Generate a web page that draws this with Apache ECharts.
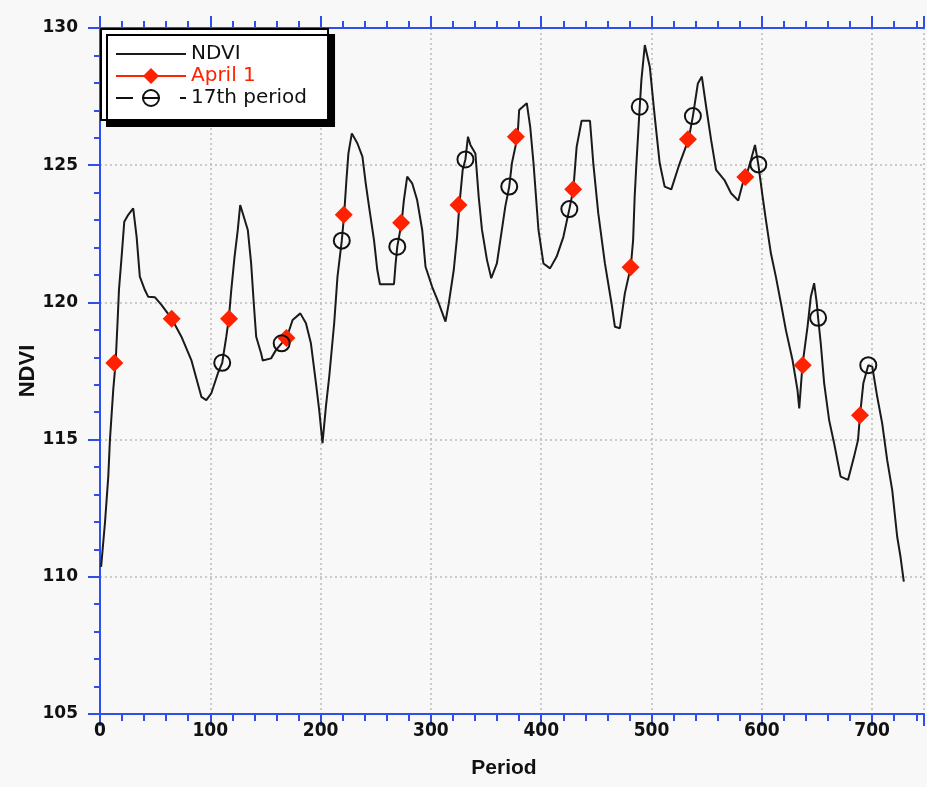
<!DOCTYPE html>
<html>
<head>
<meta charset="utf-8">
<script src="https://cdn.jsdelivr.net/npm/echarts@6/dist/echarts.min.js"></script>
<style>
  html, body { margin: 0; padding: 0; background: #f8f8f8; }
  #chart { width: 927px; height: 787px; }
</style>
</head>
<body>
<div id="chart"></div>
<script>
// NDVI trace (period, value)
const ndviPeriod = [1, 4.5, 7.5, 9, 12, 14.2, 16, 17.2, 19.6, 22, 25.6, 30.1, 33.2, 36.1, 40.7, 43.6, 49.7, 55.7, 64.8, 73.8,
  82.8, 91.9, 96.4, 100.9, 106.9, 110.8, 114.5, 116.8, 119, 122, 124.9, 127.1, 129.4, 134, 137, 139.4, 141.6, 146.1, 147.5, 155.1,
  159.6, 164.7, 170.1, 174.6, 181.6, 186.7, 191.2, 195.8, 198.7, 201.7, 204.8, 207.8, 212.3, 215.3, 219.2, 221.3, 223.4, 225.2, 228.3, 233.3,
  237.9, 240.9, 243.9, 248.4, 251.4, 253.8, 266.5, 268, 269.5, 273.4, 275.5, 278.5, 283, 287.5, 292.1, 295.1, 301.1, 307.1, 313.2, 316.2,
  320.7, 323.7, 325.8, 328.8, 331.3, 333.6, 335.8, 340.3, 343.3, 346.3, 350.8, 354.7, 359.8, 364.3, 367.4, 371, 373.4, 378.5, 380, 386.9,
  390, 393, 397.5, 402, 408, 414, 420.1, 425.5, 429.1, 432.1, 436.6, 444.2, 447.2, 451.7, 457.7, 463.7, 466.8, 471.3, 475.8, 481.2,
  483.3, 484.7, 486.3, 489.3, 490.8, 493.9, 498.4, 502.9, 507.4, 511.9, 517.9, 525.5, 533.6, 537.5, 542, 545.6, 549.5, 554, 558.5, 566.1,
  572.1, 578.6, 582.7, 585.6, 590.1, 593.8, 596.8, 600.7, 603.7, 608.2, 612.7, 617.3, 621.8, 627.8, 632.3, 633.9, 636.8, 641.4, 644.4, 647.4,
  649.8, 651, 653.4, 656.5, 661, 665.5, 671.4, 678.1, 683.6, 687.2, 689, 692, 696.5, 700.1, 704.6, 709.1, 713.6, 718.2, 722.7, 725.7, 728.7];
const ndviValue = [110.36, 111.97, 113.65, 114.99, 116.81, 117.83, 119.36, 120.46, 121.67, 122.94, 123.19, 123.43, 122.39, 120.94, 120.45, 120.21, 120.19, 119.91, 119.42, 118.75,
  117.9, 116.56, 116.44, 116.69, 117.42, 117.8, 118.75, 119.42, 120.45, 121.67, 122.64, 123.55, 123.25, 122.64, 121.43, 119.97, 118.75, 118.14, 117.88, 117.96,
  118.27, 118.51, 118.81, 119.36, 119.6, 119.24, 118.51, 117.05, 116.08, 114.87, 116.2, 117.29, 119.24, 120.94, 122.25, 123.19, 124.46, 125.43, 126.16, 125.8,
  125.31, 124.34, 123.49, 122.27, 121.18, 120.66, 120.66, 121.42, 122.03, 122.9, 123.73, 124.58, 124.34, 123.73, 122.64, 121.3, 120.57, 119.97, 119.3, 119.97,
  121.18, 122.39, 123.55, 124.83, 125.22, 126.04, 125.74, 125.43, 123.85, 122.64, 121.55, 120.88, 121.42, 122.64, 123.49, 124.22, 125.07, 126.04, 127.01, 127.26,
  126.4, 125.07, 122.64, 121.42, 121.24, 121.67, 122.39, 123.4, 124.12, 125.67, 126.62, 126.62, 125.07, 123.25, 121.43, 119.97, 119.11, 119.06, 120.33, 121.3,
  122.27, 123.85, 125.07, 127.13, 128.1, 129.38, 128.59, 126.77, 125.07, 124.22, 124.12, 125.07, 125.94, 126.79, 127.98, 128.23, 127.13, 125.92, 124.83, 124.46,
  123.98, 123.71, 124.34, 124.57, 125.19, 125.74, 125.03, 123.85, 123, 121.79, 120.94, 119.97, 118.99, 117.9, 116.81, 116.14, 117.71, 119.11, 120.21, 120.7,
  119.97, 119.44, 118.51, 117.05, 115.71, 114.87, 113.65, 113.53, 114.38, 114.99, 115.89, 117.05, 117.71, 117.66, 116.56, 115.59, 114.26, 113.16, 111.46, 110.73, 109.82];

// April 1 markers
const aprilPeriod = [13, 65, 117, 169, 221, 273, 325, 377, 429, 481, 533, 585, 637, 689];
const aprilValue = [117.79, 119.4, 119.4, 118.7, 123.19, 122.9, 123.55, 126.04, 124.12, 121.28, 125.95, 124.57, 117.71, 115.89];

// 17th period markers
const p17Period = [110.8, 164.7, 219.2, 269.5, 331.3, 371, 425.5, 489.3, 537.5, 596.8, 651, 696.5];
const p17Value = [117.8, 118.51, 122.25, 122.03, 125.21, 124.22, 123.4, 127.13, 126.79, 125.03, 119.44, 117.71];

const xLabels = [0, 100, 200, 300, 400, 500, 600, 700];
const yTicks = [105, 110, 115, 120, 125, 130];

const BLUE = '#2f4fe8';
const RED = '#ff2200';
const X_MAX = 747; // picture is cut at the right edge
const pairs = (xs, ys) => xs.map((x, i) => [x, ys[i]]);

const chart = echarts.init(document.getElementById('chart'), null, { renderer: 'canvas' });

// one axis per tick family: major (100) and minor (20), bottom and top
function xAxisDef(position, step, tickLen, withLine, extra) {
  return Object.assign({
    type: 'value',
    position: position,
    min: 0,
    max: X_MAX,
    interval: step,
    axisLine: { show: withLine, onZero: false, lineStyle: { color: BLUE, width: 2 } },
    axisTick: { show: true, length: tickLen, lineStyle: { color: BLUE, width: 2 } },
    axisLabel: { show: false },
    splitLine: { show: false }
  }, extra || {});
}

const option = {
  backgroundColor: '#f8f8f8',
  animation: false,
  grid: { left: 100, right: 0, top: 28, bottom: 73, containLabel: false },
  legend: {
    orient: 'vertical',
    left: 101,
    top: 29,
    itemWidth: 70,
    itemHeight: 20,
    itemGap: 2,
    padding: [15, 21, 12, 14],
    backgroundColor: '#ffffff',
    borderColor: '#000',
    borderWidth: 2,
    borderRadius: 0,
    shadowColor: '#000',
    shadowOffsetX: 6,
    shadowOffsetY: 6,
    shadowBlur: 0,
    textStyle: { fontFamily: 'DejaVu Sans', fontSize: 20, color: '#111' },
    data: [
      { name: 'NDVI', itemStyle: { opacity: 0 } },
      { name: 'April 1', textStyle: { color: RED }, lineStyle: { opacity: 1, width: 2, color: RED } },
      { name: '17th period', lineStyle: { opacity: 1, width: 2, color: '#111', type: [17, 9, 18, 20, 7, 60] } }
    ]
  },
  xAxis: [
    xAxisDef('bottom', 100, 12, true, {
      name: 'Period',
      nameLocation: 'middle',
      nameGap: 44,
      nameMoveOverlap: false,
      nameTextStyle: { fontFamily: 'Liberation Sans', fontWeight: 'bold', fontSize: 21, color: '#111', padding: [0, 0, 0, -16] },
      axisLabel: {
        show: true,
        margin: 8,
        fontFamily: 'DejaVu Sans Condensed',
        fontWeight: 'bold',
        fontSize: 19,
        color: '#111',
        formatter: v => (xLabels.indexOf(v) >= 0 ? String(v) : '')
      },
      splitLine: { show: true, lineStyle: { color: '#bbbbbb', width: 1.5, type: [2, 3] } }
    }),
    xAxisDef('bottom', 20, 7, false),
    xAxisDef('top', 100, 12, true),
    xAxisDef('top', 20, 7, false)
  ],
  yAxis: {
    type: 'value',
    min: 105,
    max: 130,
    interval: 5,
    name: 'NDVI',
    nameLocation: 'middle',
    nameGap: 61,
    nameMoveOverlap: false,
    nameRotate: 90,
    nameTextStyle: { fontFamily: 'Liberation Sans', fontWeight: 'bold', fontSize: 22, color: '#111' },
    axisLine: { show: true, lineStyle: { color: BLUE, width: 2 } },
    axisTick: { show: true, length: 12, lineStyle: { color: BLUE, width: 2 } },
    minorTick: { show: true, splitNumber: 5, length: 6, lineStyle: { color: BLUE, width: 2 } },
    axisLabel: {
      margin: 22,
      fontFamily: 'DejaVu Sans',
      fontWeight: 'bold',
      fontSize: 17,
      color: '#111',
      formatter: v => (yTicks.indexOf(v) >= 0 ? String(v) : '')
    },
    splitLine: { show: true, lineStyle: { color: '#bbbbbb', width: 1.5, type: [2, 3] } }
  },
  series: [
    {
      name: 'NDVI',
      type: 'line',
      data: pairs(ndviPeriod, ndviValue),
      showSymbol: false,
      symbol: 'none',
      lineStyle: { color: '#1a1a1a', width: 2 },
      itemStyle: { color: '#1a1a1a' },
      z: 2
    },
    {
      name: 'April 1',
      type: 'line',
      data: pairs(aprilPeriod, aprilValue),
      symbol: 'diamond',
      symbolSize: 18,
      showAllSymbol: true,
      lineStyle: { opacity: 0, color: RED, width: 2 },
      itemStyle: { color: RED },
      z: 3
    },
    {
      name: '17th period',
      type: 'line',
      data: pairs(p17Period, p17Value),
      symbol: 'circle',
      symbolSize: 16,
      showAllSymbol: true,
      lineStyle: { opacity: 0, color: '#111', width: 2 },
      itemStyle: { color: 'rgba(0,0,0,0)', borderColor: '#111', borderWidth: 2 },
      z: 4
    }
  ]
};

chart.setOption(option);
</script>
</body>
</html>
